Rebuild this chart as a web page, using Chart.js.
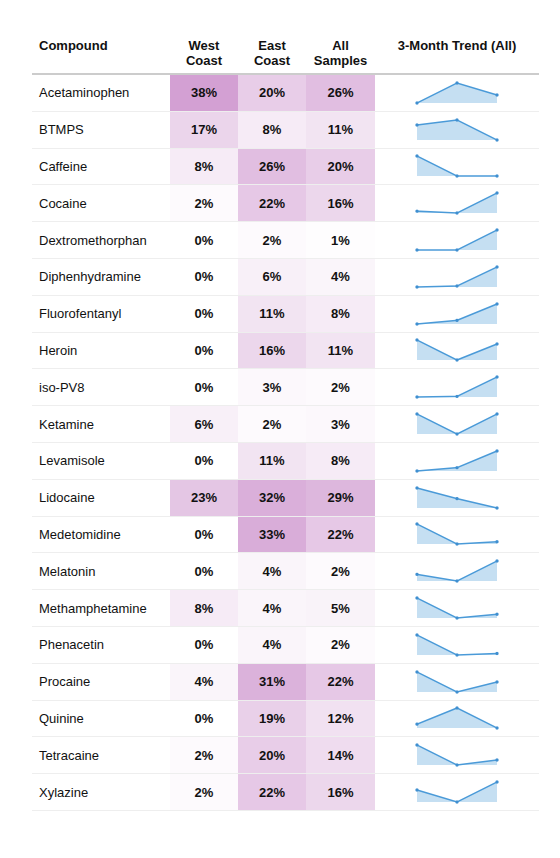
<!DOCTYPE html>
<html>
<head>
<meta charset="utf-8">
<script src="https://cdn.jsdelivr.net/npm/chart.js@4.4.0/dist/chart.umd.min.js"></script>
<style>
body { margin: 0; background: #fff; font-family: "Liberation Sans", Arial, sans-serif; color: #111; }
table { position: absolute; left: 32px; top: 30px; border-collapse: collapse; table-layout: fixed; width: 507px; font-size: 13px; }
th { font-weight: bold; vertical-align: top; padding: 8px 0 5px; line-height: 15px; border-bottom: 2px solid #ccc; text-align: center; }
th.name { text-align: left; padding-left: 7px; }
td { height: 35.8px; padding: 0; border-bottom: 1px solid #eee; text-align: center; vertical-align: middle; font-weight: bold; }
td.name { text-align: left; padding-left: 7px; font-weight: normal; }
td.trend canvas { display: block; margin: 0 auto; }
</style>
</head>
<body>
<table id="tbl">
  <colgroup>
    <col style="width:138px"><col style="width:68px"><col style="width:68px"><col style="width:69px"><col style="width:164px">
  </colgroup>
  <thead>
    <tr>
      <th class="name">Compound</th>
      <th>West<br>Coast</th>
      <th>East<br>Coast</th>
      <th>All<br>Samples</th>
      <th>3-Month Trend (All)</th>
    </tr>
  </thead>
  <tbody id="rows"></tbody>
</table>
<script>
//Compounds (rows)
const compounds = ['Acetaminophen', 'BTMPS', 'Caffeine', 'Cocaine', 'Dextromethorphan',
    'Diphenhydramine', 'Fluorofentanyl', 'Heroin', 'iso-PV8', 'Ketamine',
    'Levamisole', 'Lidocaine', 'Medetomidine', 'Melatonin', 'Methamphetamine',
    'Phenacetin', 'Procaine', 'Quinine', 'Tetracaine', 'Xylazine'];

//Share of samples in %
const westCoast = [38, 17, 8, 2, 0, 0, 0, 0, 0, 6, 0, 23, 0, 0, 8, 0, 4, 0, 2, 2];
const eastCoast = [20, 8, 26, 22, 2, 6, 11, 16, 3, 2, 11, 32, 33, 4, 4, 4, 31, 19, 20, 22];
const allSamples = [26, 11, 20, 16, 1, 4, 8, 11, 2, 3, 8, 29, 22, 2, 5, 2, 22, 12, 14, 16];

//3-Month trend (All), estimated from the sparklines
const months = ['Month 1', 'Month 2', 'Month 3'];
const trend = [
    [18, 33, 24], [12, 14, 6], [35, 13, 13], [10, 8, 30], [0, 0, 3],
    [1, 1.3, 7], [3, 5, 14], [15, 5, 13], [0.5, 0.6, 4], [4, 1, 4],
    [3, 5, 15], [38, 29, 21], [40, 13, 16], [2, 1, 4], [10, 3, 4.3],
    [5, 1, 1.3], [32, 14, 23], [9.5, 20, 7], [24, 8, 12], [15, 9, 19]
];

//Heat colour: white -> orchid, scaled by the biggest value
const maxVal = Math.max(...westCoast, ...eastCoast, ...allSamples);
function heat(v) {
    const t = v / maxVal;
    const top = [211, 160, 211];
    const c = top.map(ch => Math.round(255 + (ch - 255) * t));
    return `rgb(${c[0]}, ${c[1]}, ${c[2]})`;
}

const tbody = document.getElementById('rows');

compounds.forEach((name, i) => {
    const tr = document.createElement('tr');

    const tdName = document.createElement('td');
    tdName.className = 'name';
    tdName.textContent = name;
    tr.appendChild(tdName);

    [westCoast[i], eastCoast[i], allSamples[i]].forEach(v => {
        const td = document.createElement('td');
        td.textContent = `${v}%`;
        td.style.background = heat(v);
        tr.appendChild(td);
    });

    const tdTrend = document.createElement('td');
    tdTrend.className = 'trend';
    const cv = document.createElement('canvas');
    cv.width = 90;
    cv.height = 28;
    tdTrend.appendChild(cv);
    tr.appendChild(tdTrend);

    tbody.appendChild(tr);

    new Chart(cv, {
        type: 'line',
        data: {
            labels: months,
            datasets: [{
                data: trend[i],
                borderColor: '#4a9ad8',
                backgroundColor: 'rgba(74, 154, 216, 0.32)',
                borderWidth: 1.5,
                pointRadius: 1.6,
                pointBackgroundColor: '#3f8fd0',
                pointBorderWidth: 0,
                fill: 'start',
                tension: 0,
                clip: false
            }]
        },
        options: {
            responsive: false,
            animation: false,
            devicePixelRatio: 2,
            layout: { padding: { left: 5, right: 5, top: 4, bottom: 4 } },
            plugins: { legend: { display: false }, tooltip: { enabled: false } },
            scales: {
                x: { display: false },
                y: { display: false, min: Math.min(...trend[i]), max: Math.max(...trend[i]) }
            }
        }
    });
});
</script>
</body>
</html>
